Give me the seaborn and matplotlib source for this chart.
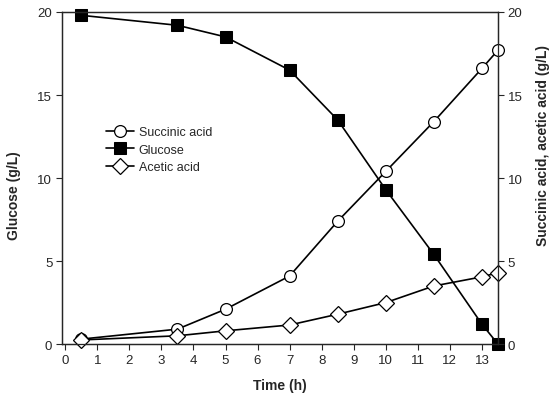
import matplotlib
matplotlib.use("Agg")
import matplotlib.pyplot as plt
import seaborn as sns
import pandas as pd

# data
time_h = [0.5, 3.5, 5, 7, 8.5, 10, 11.5, 13, 13.5]
glucose = [19.8, 19.2, 18.5, 16.5, 13.5, 9.3, 5.4, 1.2, 0.0]
succinic = [0.3, 0.9, 2.1, 4.1, 7.4, 10.4, 13.4, 16.6, 17.7]
acetic = [0.25, 0.5, 0.8, 1.15, 1.8, 2.5, 3.5, 4.05, 4.3]
x_ticks = list(range(0, 14))
y_ticks = [0, 5, 10, 15, 20]

df = pd.DataFrame({"Time": time_h, "Glucose": glucose,
                   "Succinic acid": succinic, "Acetic acid": acetic})

sns.set_style("ticks")
plt.rcParams["font.family"] = ["Liberation Sans", "DejaVu Sans"]
plt.rcParams["font.size"] = 9.5

fig = plt.figure(figsize=(5.49, 4.06), dpi=100)
ax = fig.add_axes([0.113, 0.150, 0.794, 0.818])
ax2 = ax.twinx()

sns.lineplot(data=df, x="Time", y="Glucose", ax=ax, color="black", lw=1.2,
             marker="s", markersize=8, markerfacecolor="black",
             markeredgecolor="black", label="Glucose", legend=False,
             clip_on=False)
sns.lineplot(data=df, x="Time", y="Succinic acid", ax=ax2, color="black", lw=1.2,
             marker="o", markersize=8.5, markerfacecolor="white",
             markeredgecolor="black", markeredgewidth=0.9,
             label="Succinic acid", legend=False, clip_on=False)
sns.lineplot(data=df, x="Time", y="Acetic acid", ax=ax2, color="black", lw=1.2,
             marker="D", markersize=8, markerfacecolor="white",
             markeredgecolor="black", markeredgewidth=0.9,
             label="Acetic acid", legend=False, clip_on=False)

for a in (ax, ax2):
    a.set_xlim(-0.1, 13.5)
    a.set_ylim(0, 20)
    a.set_yticks(y_ticks)
    a.tick_params(direction="out", length=4, width=0.8, labelsize=9.5, pad=3)
    for s in a.spines.values():
        s.set_linewidth(0.9)
        s.set_visible(True)

ax.set_xticks(x_ticks)
ax.set_xlabel("Time (h)", fontweight="bold", fontsize=10, labelpad=9)
ax.set_ylabel("Glucose (g/L)", fontweight="bold", fontsize=10)
ax.yaxis.set_label_coords(-0.095, 0.45)
ax2.set_ylabel("Succinic acid, acetic acid (g/L)", fontweight="bold",
               fontsize=10, rotation=90)
ax2.yaxis.set_label_coords(1.088, 0.6)

h1, l1 = ax.get_legend_handles_labels()
h2, l2 = ax2.get_legend_handles_labels()
hmap = dict(zip(l1 + l2, h1 + h2))
order = ["Succinic acid", "Glucose", "Acetic acid"]
ax.legend([hmap[k] for k in order], order, loc="upper left",
          bbox_to_anchor=(0.09, 0.672), frameon=False, fontsize=9,
          handlelength=2.2, handletextpad=0.4, labelspacing=0.45,
          borderaxespad=0)

fig.savefig("out.png", dpi=100)
